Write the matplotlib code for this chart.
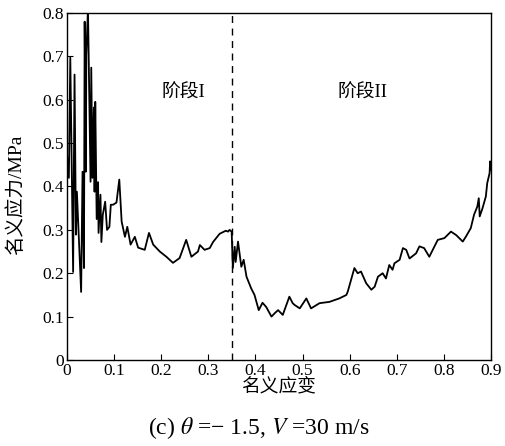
import matplotlib.pyplot as plt

plt.rcParams['font.family'] = ['Liberation Serif', 'Noto Sans CJK SC']
plt.rcParams['mathtext.fontset'] = 'stix'

# nominal strain / nominal stress (MPa)
strain = [0.000, 0.004, 0.007, 0.013, 0.016, 0.019, 0.021, 0.030, 0.033, 0.036,
          0.0375, 0.040, 0.041, 0.0445, 0.050, 0.0515, 0.054, 0.057, 0.0585, 0.060,
          0.063, 0.066, 0.067, 0.071, 0.073, 0.076, 0.081, 0.085, 0.090, 0.093,
          0.098, 0.105, 0.111, 0.116, 0.123, 0.128, 0.135, 0.144, 0.151, 0.165,
          0.174, 0.183, 0.197, 0.211, 0.225, 0.239, 0.253, 0.264, 0.278, 0.282,
          0.292, 0.303, 0.310, 0.324, 0.337, 0.342, 0.345, 0.3495, 0.352, 0.356,
          0.358, 0.363, 0.370, 0.375, 0.381, 0.391, 0.398, 0.407, 0.415, 0.423,
          0.434, 0.441, 0.448, 0.458, 0.472, 0.479, 0.483, 0.494, 0.508, 0.518,
          0.536, 0.557, 0.578, 0.593, 0.596, 0.603, 0.610, 0.617, 0.624, 0.635,
          0.646, 0.653, 0.660, 0.670, 0.677, 0.684, 0.691, 0.695, 0.706, 0.713,
          0.720, 0.727, 0.741, 0.748, 0.758, 0.769, 0.780, 0.787, 0.801, 0.815,
          0.826, 0.840, 0.847, 0.857, 0.864, 0.871, 0.874, 0.876, 0.882, 0.889,
          0.892, 0.897, 0.898, 0.900]
stress = [0.473, 0.420, 0.697, 0.203, 0.658, 0.289, 0.388, 0.157, 0.434, 0.212,
          0.780, 0.434, 0.704, 0.810, 0.411, 0.674, 0.420, 0.582, 0.388, 0.595,
          0.325, 0.410, 0.293, 0.381, 0.272, 0.335, 0.365, 0.300, 0.307, 0.358,
          0.358, 0.363, 0.416, 0.319, 0.284, 0.307, 0.266, 0.284, 0.259, 0.254,
          0.293, 0.266, 0.250, 0.238, 0.224, 0.235, 0.277, 0.238, 0.250, 0.265,
          0.254, 0.258, 0.272, 0.291, 0.298, 0.296, 0.300, 0.296, 0.212, 0.261,
          0.226, 0.273, 0.215, 0.231, 0.192, 0.165, 0.150, 0.115, 0.132, 0.122,
          0.100, 0.108, 0.115, 0.104, 0.146, 0.131, 0.127, 0.119, 0.142, 0.119,
          0.131, 0.134, 0.142, 0.150, 0.158, 0.185, 0.212, 0.200, 0.204, 0.177,
          0.162, 0.169, 0.192, 0.200, 0.188, 0.219, 0.208, 0.223, 0.231, 0.258,
          0.254, 0.234, 0.246, 0.262, 0.258, 0.238, 0.262, 0.277, 0.281, 0.296,
          0.288, 0.273, 0.285, 0.304, 0.335, 0.354, 0.373, 0.331, 0.350, 0.377,
          0.408, 0.431, 0.458, 0.438]

split = 0.35
stage_labels = ['阶段I', '阶段II']
xticks = [0, 0.1, 0.2, 0.3, 0.4, 0.5, 0.6, 0.7, 0.8, 0.9]
yticks = [0, 0.1, 0.2, 0.3, 0.4, 0.5, 0.6, 0.7, 0.8]

fig = plt.figure(figsize=(5.06, 4.46), dpi=100)
ax = fig.add_axes([0.1324, 0.1928, 0.8380, 0.7781])

ax.plot(strain, stress, color='black', lw=1.3)
ax.axvline(split, color='black', lw=1.0, ls=(0, (5, 4)))

ax.set_xlim(0, 0.9)
ax.set_ylim(0, 0.8)
ax.set_xticks(xticks)
ax.set_yticks(yticks)
ax.set_xticklabels(['0' if t == 0 else f'{t:.1f}' for t in xticks])
ax.set_yticklabels(['0' if t == 0 else f'{t:.1f}' for t in yticks])
ax.tick_params(direction='in', length=4, width=0.8, labelsize=12.5, pad=2)
for s in ax.spines.values():
    s.set_linewidth(1.0)

ax.text(0.246, 0.615, stage_labels[0], fontsize=13.5, ha='center', va='center')
ax.text(0.628, 0.615, stage_labels[1], fontsize=13.5, ha='center', va='center')

ax.set_xlabel('名义应变', fontsize=13.5, labelpad=-1)
ax.set_ylabel('名义应力/MPa', fontsize=14)
ax.yaxis.set_label_coords(-0.1, 0.475)

fig.text(0.512, 0.04, r'(c) $\theta$ =− 1.5, $V$ =30 m/s', fontsize=17, ha='center', va='center')

fig.savefig('out.png', dpi=100)
